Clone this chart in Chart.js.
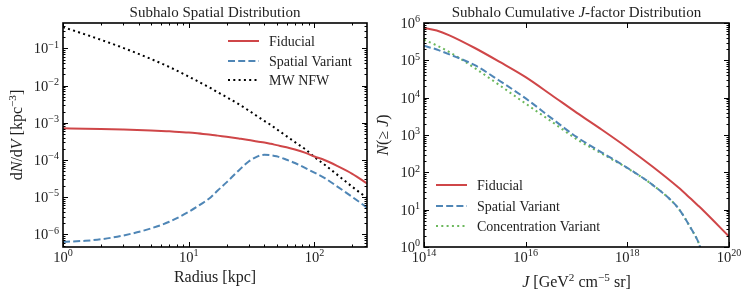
<!DOCTYPE html>
<html><head><meta charset="utf-8">
<script src="https://cdn.jsdelivr.net/npm/chart.js@4.4.0/dist/chart.umd.min.js"></script>
<style>
html,body{margin:0;padding:0;background:#fff;width:747px;height:295px;overflow:hidden}
canvas{position:absolute;top:0}
#c1{left:0}#c2{left:370px}
</style></head><body>
<canvas id="c1" width="370" height="295"></canvas>
<canvas id="c2" width="377" height="295"></canvas>
<script>
// ---------- data: left panel (radius in kpc, dN/dV in kpc^-3) ----------
const radius = [1, 1.5, 2, 3, 5, 7, 10, 13, 15, 17, 20, 25, 30, 35, 40, 45, 50, 60, 70, 85, 100, 120, 150, 200, 262];
const fiducialDensity = [7.08e-4, 6.97e-4, 6.84e-4, 6.61e-4, 6.24e-4, 5.89e-4, 5.50e-4, 5.01e-4, 4.79e-4, 4.52e-4, 4.22e-4, 3.80e-4, 3.47e-4, 3.16e-4, 2.95e-4, 2.72e-4, 2.51e-4, 2.19e-4, 1.91e-4, 1.55e-4, 1.24e-4, 1.00e-4, 7.08e-5, 4.27e-5, 2.34e-5];
const spatialDensity = [6.31e-7, 6.76e-7, 7.41e-7, 9.33e-7, 1.45e-6, 2.19e-6, 4.07e-6, 7.08e-6, 1.00e-5, 1.51e-5, 2.51e-5, 5.25e-5, 9.12e-5, 1.23e-4, 1.38e-4, 1.35e-4, 1.26e-4, 1.02e-4, 8.32e-5, 6.03e-5, 4.57e-5, 3.31e-5, 2.00e-5, 1.02e-5, 5.25e-6];
const nfwDensity = [0.372, 0.237, 0.170, 0.1035, 0.0519, 0.0316, 0.0174, 0.01096, 0.00851, 0.00661, 0.00490, 0.00316, 0.00214, 0.00151, 0.00112, 8.71e-4, 6.76e-4, 4.37e-4, 3.02e-4, 1.91e-4, 1.20e-4, 7.59e-5, 4.17e-5, 1.91e-5, 9.55e-6];

// ---------- data: right panel (J in GeV^2 cm^-5 sr, N(>=J)) ----------
const jFactor = [1e14, 1.78e14, 3.16e14, 1e15, 3.16e15, 1e16, 3.16e16, 1e17, 3.16e17, 1e18, 3.16e18, 1e19, 1.78e19, 2.51e19, 3.16e19, 1e20];
const fiducialCount = [7.41e5, 6.31e5, 4.68e5, 2.14e5, 8.91e4, 3.55e4, 1.20e4, 3.98e3, 1.38e3, 457, 141, 39.8, 19.5, 12.6, 9.33, 1.91];
const spatialCount = [2.45e5, 1.95e5, 1.445e5, 7.41e4, 2.75e4, 9.55e3, 2.88e3, 891, 339, 132, 45.7, 11.0, 3.16, 1.32, 0.5, null];
const concentrationCount = [3.55e5, 2.51e5, 1.66e5, 6.17e4, 2.09e4, 6.92e3, 2.34e3, 776, 316, 129, 45.7, 11.0, 3.16, 1.32, 0.5, null];

// ---------- tick labels (powers of ten) ----------
const leftXTickExp = [0, 1, 2];
const leftYTickExp = [-6, -5, -4, -3, -2, -1];
const rightXTickExp = [14, 16, 18, 20];
const rightYTickExp = [0, 1, 2, 3, 4, 5, 6];

const SERIF = '"Liberation Serif","Times New Roman",serif';
const RED = '#cf4648', BLUE = '#4f86b6', GREEN = '#6cb85c';

function fnt(s, size){ const sz = s.sup ? size*0.7 : size; return (s.it?'italic ':'') + sz + 'px ' + SERIF; }
function richWidth(ctx, segs, size){ let w=0; for(const s of segs){ ctx.font=fnt(s,size); w+=ctx.measureText(s.t).width; } return w; }
function drawRich(ctx, segs, x, y, size, align){
  const w = richWidth(ctx, segs, size);
  let cx = align==='center' ? x-w/2 : (align==='right' ? x-w : x);
  ctx.textAlign='left'; ctx.textBaseline='alphabetic';
  for(const s of segs){ ctx.font=fnt(s,size); ctx.fillText(s.t, cx, s.sup ? y-size*0.4 : y); cx += ctx.measureText(s.t).width; }
}
function expLabel(e){ return [{t:'10'},{t:(e<0?'\u2212'+(-e):String(e)), sup:true}]; }
function pts(xs, ys){ return xs.map((v,i)=>({x:v, y:ys[i]})); }

function decorPlugin(o){
  return {
    id:'decor',
    afterDatasetsDraw(chart){
      const {ctx, chartArea:a, scales:{x,y}} = chart;
      ctx.save();
      ctx.strokeStyle='#000'; ctx.lineWidth=1; ctx.setLineDash([]);
      const maj=5, mn=2.5;
      const xt=[], yt=[];
      o.xMaj.forEach(e=>xt.push([Math.pow(10,e),maj]));
      o.yMaj.forEach(e=>yt.push([Math.pow(10,e),maj]));
      const addMinor=(arr, sc)=>{
        const lo=Math.floor(Math.log10(sc.min)), hi=Math.ceil(Math.log10(sc.max));
        for(let e=lo;e<=hi;e++) for(let k=2;k<=9;k++){ const v=k*Math.pow(10,e); if(v>sc.min && v<sc.max) arr.push([v,mn]); }
      };
      if(o.xMinor) addMinor(xt,x);
      if(o.yMinor) addMinor(yt,y);
      ctx.beginPath();
      xt.forEach(([v,l])=>{ const p=Math.round(x.getPixelForValue(v))+0.5; ctx.moveTo(p,a.bottom); ctx.lineTo(p,a.bottom-l); ctx.moveTo(p,a.top); ctx.lineTo(p,a.top+l); });
      yt.forEach(([v,l])=>{ const p=Math.round(y.getPixelForValue(v))+0.5; ctx.moveTo(a.left,p); ctx.lineTo(a.left+l,p); ctx.moveTo(a.right,p); ctx.lineTo(a.right-l,p); });
      ctx.stroke();
      ctx.lineWidth=1.6;
      ctx.strokeRect(a.left, a.top, a.right-a.left, a.bottom-a.top);
      // tick labels
      ctx.fillStyle='#222';
      o.xMaj.forEach(e=>{ drawRich(ctx, expLabel(e), x.getPixelForValue(Math.pow(10,e)), a.bottom+15, 14.5, 'center'); });
      o.yMaj.forEach(e=>{ drawRich(ctx, expLabel(e), a.left-4, y.getPixelForValue(Math.pow(10,e))+5, 14.5, 'right'); });
      // titles
      drawRich(ctx, o.title, (a.left+a.right)/2, 16.5, 15, 'center');
      drawRich(ctx, o.xTitle, (a.left+a.right)/2, o.xTitleY, 16, 'center');
      ctx.save(); ctx.translate(o.yTitleX, (a.top+a.bottom)/2); ctx.rotate(-Math.PI/2);
      drawRich(ctx, o.yTitle, 0, 0, 16, 'center'); ctx.restore();
      // legend
      o.legend.forEach((it,i)=>{
        const yy=o.legY[i];
        ctx.beginPath(); ctx.strokeStyle=it.c; ctx.lineWidth=2; ctx.lineCap='butt'; ctx.setLineDash(it.d);
        ctx.moveTo(o.legX, yy); ctx.lineTo(o.legX+31, yy); ctx.stroke();
        ctx.setLineDash([]);
        drawRich(ctx, [{t:it.t}], o.legX+41, yy+4.5, 14, 'left');
      });
      ctx.restore();
    }
  };
}

function ds(label, data, color, dash){
  return {label, data, borderColor:color, borderWidth:2, borderDash:dash, borderCapStyle:'butt',
    pointRadius:0, fill:false, cubicInterpolationMode:'monotone', clip:0, spanGaps:false};
}
function axes(xmin,xmax,ymin,ymax){
  return {
    x:{type:'logarithmic', min:xmin, max:xmax, display:false},
    y:{type:'logarithmic', min:ymin, max:ymax, display:false}
  };
}
const common = {responsive:false, animation:false, devicePixelRatio:1,
  plugins:{legend:{display:false}, tooltip:{enabled:false}, title:{display:false}}};

const DASH=[7,3.2], DOT=[2,3.3];

new Chart(document.getElementById('c1'), {
  type:'line',
  data:{datasets:[
    ds('Fiducial', pts(radius,fiducialDensity), RED, []),
    ds('Spatial Variant', pts(radius,spatialDensity), BLUE, DASH),
    ds('MW NFW', pts(radius,nfwDensity), '#000', DOT)
  ]},
  options:Object.assign({}, common, {
    layout:{padding:{left:63,right:3,top:23,bottom:48}},
    scales:axes(1,262,4.6e-7,0.48)
  }),
  plugins:[decorPlugin({
    xMaj:leftXTickExp, yMaj:leftYTickExp, xMinor:true, yMinor:true,
    title:[{t:'Subhalo Spatial Distribution'}],
    xTitle:[{t:'Radius [kpc]'}], xTitleY:282,
    yTitle:[{t:'d'},{t:'N',it:true},{t:'/d'},{t:'V',it:true},{t:' [kpc'},{t:'\u22123',sup:true},{t:']'}], yTitleX:22,
    legX:228, legY:[41,61,80],
    legend:[{t:'Fiducial',c:RED,d:[]},{t:'Spatial Variant',c:BLUE,d:DASH},{t:'MW NFW',c:'#000',d:DOT}]
  })]
});

new Chart(document.getElementById('c2'), {
  type:'line',
  data:{datasets:[
    ds('Fiducial', pts(jFactor,fiducialCount), RED, []),
    ds('Spatial Variant', pts(jFactor,spatialCount), BLUE, DASH),
    ds('Concentration Variant', pts(jFactor,concentrationCount), GREEN, DOT)
  ]},
  options:Object.assign({}, common, {
    layout:{padding:{left:54,right:18,top:23,bottom:48}},
    scales:axes(1e14,1e20,1,1e6)
  }),
  plugins:[decorPlugin({
    xMaj:rightXTickExp, yMaj:rightYTickExp, xMinor:false, yMinor:true,
    title:[{t:'Subhalo Cumulative '},{t:'J',it:true},{t:'-factor Distribution'}],
    xTitle:[{t:'J',it:true},{t:' [GeV'},{t:'2',sup:true},{t:' cm'},{t:'\u22125',sup:true},{t:' sr]'}], xTitleY:287,
    yTitle:[{t:'N',it:true},{t:'(\u2265 '},{t:'J',it:true},{t:')'}], yTitleX:18,
    legX:66, legY:[185,206,226],
    legend:[{t:'Fiducial',c:RED,d:[]},{t:'Spatial Variant',c:BLUE,d:DASH},{t:'Concentration Variant',c:GREEN,d:DOT}]
  })]
});
</script>
</body></html>
